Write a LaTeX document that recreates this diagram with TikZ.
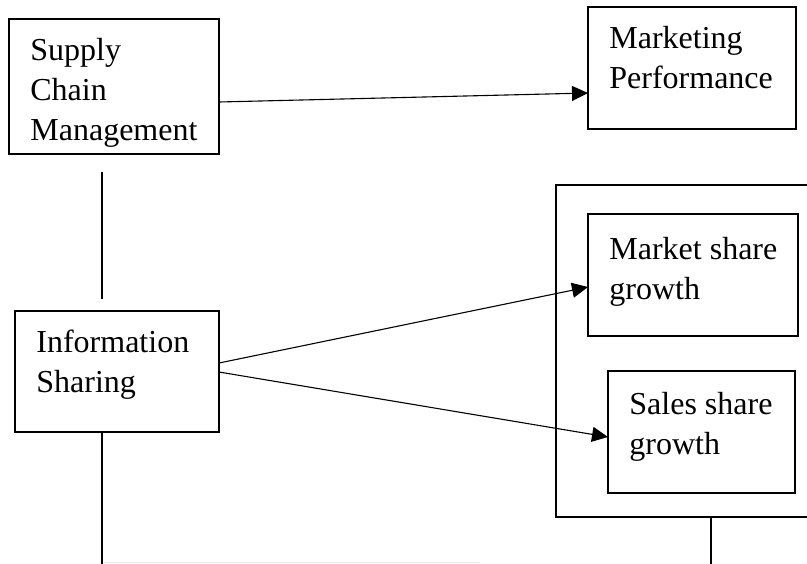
\documentclass[tikz,border=0pt]{standalone}
\usepackage{fontspec}
\setmainfont{Liberation Serif}
\usetikzlibrary{arrows.meta}
\begin{document}
\begin{tikzpicture}[x=0.5pt,y=-0.5pt,
  box/.style={draw, line width=0.65pt, rectangle, inner sep=0pt, outer sep=0pt, anchor=north west},
  outerbox/.style={box, line width=1.3pt},
  txt/.style={anchor=north west, inner sep=0pt, align=left, font=\fontsize{16}{20}\selectfont},
  conn/.style={line width=0.55pt},
  arr/.style={conn, -{Triangle[length=8pt,width=7.5pt]}},
]
\useasboundingbox (0,0) rectangle (807,563);
\clip (0,0) rectangle (807,563);
% boxes
\node[box, minimum width=105pt, minimum height=67.5pt] (scm) at (9,19) {};
\node[box, minimum width=104pt, minimum height=61pt] (mp) at (588,7) {};
\node[outerbox, minimum width=137pt, minimum height=166pt] (outer) at (556,185) {};
\node[box, minimum width=105pt, minimum height=61pt] (msg) at (588,214) {};
\node[box, minimum width=93.5pt, minimum height=61pt] (ssg) at (608,371) {};
\node[box, minimum width=102pt, minimum height=60.5pt] (info) at (15,311) {};
% texts
\node[txt] (scmt) at ([shift={(21,19)}]scm.north west) {Supply\\Chain\\Management};
\node[txt] (mpt) at ([shift={(21,19)}]mp.north west) {Marketing\\Performance};
\node[txt] (msgt) at ([shift={(21,23)}]msg.north west) {Market share\\growth};
\node[txt] (ssgt) at ([shift={(21,21)}]ssg.north west) {Sales share\\growth};
\node[txt] (infot) at ([shift={(21,19)}]info.north west) {Information\\Sharing};
% connectors
\draw[arr] ([shift={(0,15.5)}]scm.east) -- ([shift={(0,25)}]mp.west);
\draw[arr] ([shift={(0,-8.5)}]info.east) -- ([shift={(0,12)}]msg.west);
\draw[arr] ([shift={(0,0.5)}]info.east) -- ([shift={(0,5)}]ssg.west);
\coordinate (v1a) at ([shift={(-12,18)}]scm.south);
\coordinate (v1b) at ([shift={(-15,-12)}]info.north);
\draw[conn] (v1a) -- (v1b);
\coordinate (v2) at ([xshift=-7.5pt]info.south |- 0,566);
\draw[conn] ([xshift=-7.5pt]info.south) -- (v2);
\coordinate (v3) at ([xshift=9pt]outer.south |- 0,566);
\draw[conn] ([xshift=9pt]outer.south) -- (v3);
\coordinate (f1) at (103,562);
\coordinate (f2) at (480,562);
\draw[line width=0.5pt, gray!15] (f1) -- (f2);
\end{tikzpicture}
\end{document}
